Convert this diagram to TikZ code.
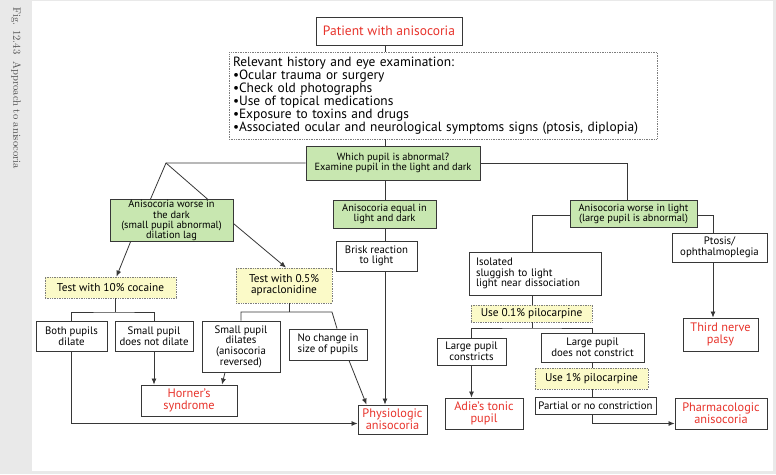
\documentclass[tikz,border=0pt]{standalone}
\usepackage{fontspec}
\setsansfont{PT Sans}
\usepackage{tikz}
\usetikzlibrary{arrows.meta}
\usepackage{xcolor}
\definecolor{ColLine}{RGB}{55,55,55}
\definecolor{ColGreen}{RGB}{200,231,176}
\definecolor{ColYellow}{RGB}{251,250,200}
\definecolor{ColRed}{RGB}{232,52,44}
\definecolor{ColDot}{RGB}{125,125,125}
\definecolor{ColSide}{RGB}{233,233,233}
\tikzstyle{BoxPlain}=[draw=ColLine,line width=0.9pt,fill=white,inner sep=1pt,align=center,
font=\sffamily\fontsize{10.8}{10.6}\selectfont]
\tikzstyle{BoxGreen}=[BoxPlain,fill=ColGreen,font=\sffamily\fontsize{10.4}{10.1}\selectfont]
\tikzstyle{BoxTest}=[BoxPlain,draw=ColDot,line width=0.8pt,dash pattern=on 0.8pt off 0.9pt,
fill=ColYellow,font=\sffamily\fontsize{11.3}{11}\selectfont]
\tikzstyle{BoxResult}=[BoxPlain,text=ColRed,font=\sffamily\fontsize{12.3}{11.8}\selectfont]
\tikzstyle{EdgeFlow}=[ColLine,line width=0.8pt]
\tikzstyle{ArrowFlow}=[EdgeFlow,-{Latex[length=6pt,width=5pt]}]

\begin{document}
\begin{tikzpicture}[x=1pt,y=-1pt]
        \fill[ColSide](0,0)rectangle(776,474);
        \fill[white](32,1)rectangle(773,471);
        \useasboundingbox(0,0)rectangle(776,474);
        \node[rotate=-90,anchor=west,text=black!70,font=\fontsize{10.6}{10}\selectfont](caption)at(16,4){Fig. 12.43\ \ Approach to anisocoria};
        % top of the chart
        \node[BoxResult,minimum width=146pt,minimum height=28pt,font=\sffamily\fontsize{13.5}{13}\selectfont](patient)at(389,31){Patient with anisocoria};
        \node[BoxPlain,draw=ColDot,line width=0.7pt,dash pattern=on 0.8pt off 0.9pt,align=left,text width=420pt,
            minimum width=428pt,minimum height=87pt,font=\sffamily\fontsize{13.4}{13.1}\selectfont](history)at(443,95.5){Relevant history and eye examination:\\
            •Ocular trauma or surgery\\
            •Check old photographs\\
            •Use of topical medications\\
            •Exposure to toxins and drugs\\
            •Associated ocular and neurological symptoms signs (ptosis, diplopia)};
        \node[BoxGreen,minimum width=174pt,minimum height=34pt](which)at(393,163){Which pupil is abnormal?\\Examine pupil in the light and dark};
        % three branches
        \node[BoxGreen,minimum width=123pt,minimum height=40pt](dark)at(171.5,220.5){Anisocoria worse in\\the dark\\(small pupil abnormal)\\dilation lag};
        \node[BoxGreen,minimum width=103pt,minimum height=28pt](equal)at(384.5,214){Anisocoria equal in\\light and dark};
        \node[BoxGreen,minimum width=127pt,minimum height=27pt](light)at(633.5,213.5){Anisocoria worse in light\\(large pupil is abnormal)};
        \node[BoxPlain,minimum width=81pt,minimum height=30pt](brisk)at(376.5,256){Brisk reaction\\to light};
        \node[BoxPlain,minimum width=95pt,minimum height=29pt](ptosis)at(719.5,247.5){Ptosis/\\ophthalmoplegia};
        \node[BoxPlain,align=left,text width=118pt,minimum width=132pt,minimum height=43pt](isolated)at(535,273.5){Isolated\\sluggish to light\\light near dissociation};
        % left branch
        \node[BoxTest,minimum width=131pt,minimum height=21pt](cocaine)at(110.5,287.5){Test with 10\% cocaine};
        \node[BoxTest,minimum width=96pt,minimum height=35pt](apra)at(284,285.5){Test with 0.5\%\\apraclonidine};
        \node[BoxPlain,minimum width=71pt,minimum height=30pt](bothdil)at(71.5,336){Both pupils\\dilate};
        \node[BoxPlain,minimum width=78pt,minimum height=30pt](smallnot)at(154,336){Small pupil\\does not dilate};
        \node[BoxPlain,minimum width=78pt,minimum height=51pt](smalldil)at(241,346.5){Small pupil\\dilates\\(anisocoria\\reversed)};
        \node[BoxPlain,minimum width=78pt,minimum height=31pt](nochange)at(328,344.5){No change in\\size of pupils};
        \node[BoxResult,minimum width=96pt,minimum height=31pt](horner)at(189,400.5){Horner’s\\syndrome};
        \node[BoxResult,minimum width=69pt,minimum height=29pt](physio)at(392.5,419.5){Physiologic\\anisocoria};
        % right branch
        \node[BoxTest,minimum width=121pt,minimum height=17pt](pilo1)at(531.5,313.5){Use 0.1\% pilocarpine};
        \node[BoxPlain,minimum width=69pt,minimum height=27pt](largecon)at(471.5,351.5){Large pupil\\constricts};
        \node[BoxPlain,minimum width=103pt,minimum height=29pt](largenot)at(592.5,347.5){Large pupil\\does not constrict};
        \node[BoxTest,minimum width=113pt,minimum height=21pt](pilo2)at(591.5,378.5){Use 1\% pilocarpine};
        \node[BoxPlain,inner xsep=0pt,minimum width=121pt,minimum height=17pt](partial)at(595.5,405.5){Partial or no constriction};
        \node[BoxResult,minimum width=78pt,minimum height=31pt](adie)at(484,413.5){Adie’s tonic\\pupil};
        \node[BoxResult,minimum width=92pt,minimum height=31pt](pharma)at(721,413.5){Pharmacologic\\anisocoria};
        \node[BoxResult,minimum width=75pt,minimum height=33pt](third)at(720.5,334.5){Third nerve\\palsy};
        % junctions
        \coordinate(spine)at(385,0);
        \coordinate(forkL)at(166,163);
        \coordinate(forkC)at(115,312);
        \coordinate(forkA)at(289,312);
        \coordinate(forkB)at(332,312);
        \coordinate(midR)at(532,0);
        \coordinate(forkP)at(532,328);
        \coordinate(colN)at(592,0);
        \coordinate(colR)at(713,0);
        % connectors
        \draw[EdgeFlow](spine|-patient.south)--(spine|-history.north);
        \draw[EdgeFlow](spine|-history.south)--(spine|-which.north);
        \draw[EdgeFlow](spine|-which.south)--(spine|-equal.north);
        \draw[EdgeFlow](spine|-equal.south)--(spine|-brisk.north);
        \draw[ArrowFlow](spine|-brisk.south)--(spine|-physio.north);
        \draw[EdgeFlow](which.west)--(forkL)--([xshift=-21pt]dark.north);
        \draw[EdgeFlow](forkL)--([xshift=36pt]dark.north);
        \draw[ArrowFlow]([xshift=-41pt]dark.south)--([xshift=6pt]cocaine.north);
        \draw[ArrowFlow]([yshift=-3pt]dark.east)--([xshift=2pt]apra.north);
        \draw[EdgeFlow](cocaine.south-|forkC)--(forkC);
        \draw[EdgeFlow](bothdil.north)|-(forkC)-|(smallnot.north);
        \draw[EdgeFlow](apra.south-|forkA)--(forkA);
        \draw[EdgeFlow](smalldil.north)|-(forkA)--(forkB)--([xshift=9pt]nochange.north);
        \draw[ArrowFlow](smallnot.south)--(smallnot.south|-horner.north);
        \draw[ArrowFlow]([xshift=-16pt]smalldil.south)--([xshift=33pt]horner.north);
        \draw[ArrowFlow]([xshift=21pt]nochange.south)--([xshift=-26pt]physio.north);
        \draw[ArrowFlow](bothdil.south)|-([yshift=-4pt]physio.west);
        \draw[EdgeFlow](which.east)-|([xshift=-6pt]light.north);
        \draw[EdgeFlow]([yshift=-2pt]light.west)-|(midR|-isolated.north);
        \draw[EdgeFlow]([yshift=-2pt]light.east)-|(colR|-ptosis.north);
        \draw[ArrowFlow](colR|-ptosis.south)--(colR|-third.north);
        \draw[EdgeFlow](midR|-isolated.south)--(midR|-pilo1.north);
        \draw[EdgeFlow](midR|-pilo1.south)--(forkP);
        \draw[EdgeFlow](largecon.north)|-(forkP)-|(largenot.north);
        \draw[ArrowFlow](largecon.south)--(largecon.south|-adie.north);
        \draw[EdgeFlow](colN|-largenot.south)--(colN|-pilo2.north);
        \draw[EdgeFlow](colN|-pilo2.south)--(colN|-partial.north);
        \draw[ArrowFlow](colN|-partial.south)|-([yshift=-10pt]pharma.west);
    \end{tikzpicture}
\end{document}
